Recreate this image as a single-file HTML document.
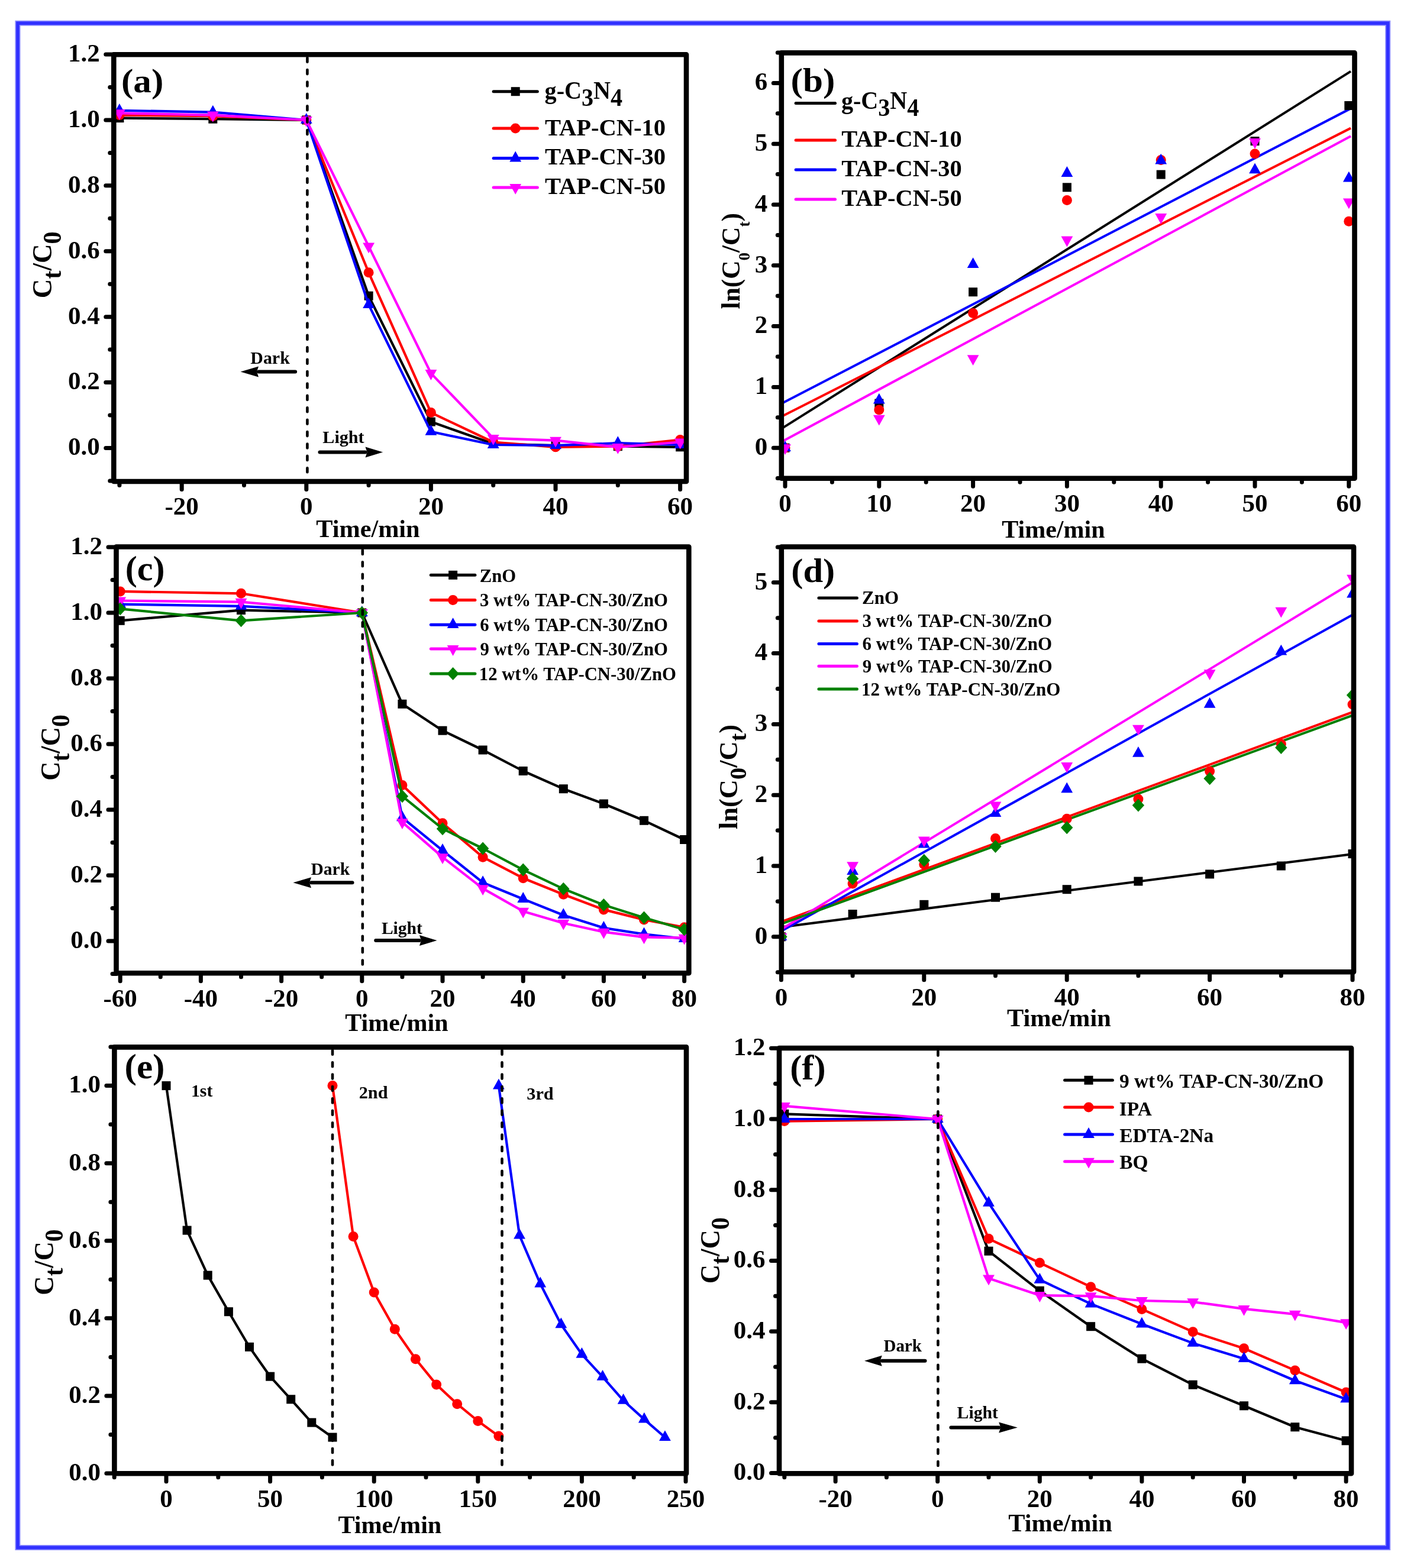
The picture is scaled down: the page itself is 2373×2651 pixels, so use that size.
<!DOCTYPE html><html><head><meta charset="utf-8"><title>Photocatalytic degradation</title><style>html,body{margin:0;padding:0;background:#fff}svg{display:block}</style></head><body>
<svg width="2373" height="2651" viewBox="0 0 2373 2651" font-family="'Liberation Serif','Times New Roman',serif" font-weight="bold" fill="#000">
<rect width="2373" height="2651" fill="#fff"/>
<rect x="29.96" y="39.2" width="2315.74" height="2577.3" fill="none" stroke="#8888ff" stroke-width="9"/>
<rect x="29.96" y="39.2" width="2315.74" height="2577.3" fill="none" stroke="#3030ff" stroke-width="5.5"/>
<clipPath id="c1"><rect x="192.3" y="92.3" width="967.7" height="721.7"/></clipPath>
<g clip-path="url(#c1)">
<polyline points="201.9,199.6 359.8,201.2 517.8,202.9 623.1,500.2 728.4,713.1 833.7,750.3 939.0,753.1 1044.3,754.7 1149.6,755.8" stroke="#000" stroke-width="4.2" fill="none" stroke-linejoin="round"/>
<rect x="194.4" y="192.1" width="15.0" height="15.0" fill="#000"/>
<rect x="352.3" y="193.7" width="15.0" height="15.0" fill="#000"/>
<rect x="510.3" y="195.4" width="15.0" height="15.0" fill="#000"/>
<rect x="615.6" y="492.7" width="15.0" height="15.0" fill="#000"/>
<rect x="720.9" y="705.6" width="15.0" height="15.0" fill="#000"/>
<rect x="826.2" y="742.8" width="15.0" height="15.0" fill="#000"/>
<rect x="931.5" y="745.6" width="15.0" height="15.0" fill="#000"/>
<rect x="1036.8" y="747.2" width="15.0" height="15.0" fill="#000"/>
<rect x="1142.1" y="748.3" width="15.0" height="15.0" fill="#000"/>
<polyline points="201.9,194.6 359.8,196.2 517.8,202.9 623.1,460.8 728.4,697.6 833.7,747.5 939.0,755.8 1044.3,754.7 1149.6,743.6" stroke="#ff0000" stroke-width="4.2" fill="none" stroke-linejoin="round"/>
<circle cx="201.9" cy="194.6" r="8.5" fill="#ff0000"/>
<circle cx="359.8" cy="196.2" r="8.5" fill="#ff0000"/>
<circle cx="517.8" cy="202.9" r="8.5" fill="#ff0000"/>
<circle cx="623.1" cy="460.8" r="8.5" fill="#ff0000"/>
<circle cx="728.4" cy="697.6" r="8.5" fill="#ff0000"/>
<circle cx="833.7" cy="747.5" r="8.5" fill="#ff0000"/>
<circle cx="939.0" cy="755.8" r="8.5" fill="#ff0000"/>
<circle cx="1044.3" cy="754.7" r="8.5" fill="#ff0000"/>
<circle cx="1149.6" cy="743.6" r="8.5" fill="#ff0000"/>
<polyline points="201.9,186.8 359.8,189.6 517.8,202.9 623.1,515.1 728.4,729.8 833.7,752.0 939.0,753.1 1044.3,749.2 1149.6,752.0" stroke="#0000ff" stroke-width="4.2" fill="none" stroke-linejoin="round"/>
<path d="M201.9,174.9L211.8,192.7L192.0,192.7Z" fill="#0000ff"/>
<path d="M359.8,177.7L369.7,195.5L349.9,195.5Z" fill="#0000ff"/>
<path d="M517.8,191.0L527.7,208.8L507.9,208.8Z" fill="#0000ff"/>
<path d="M623.1,503.3L633.0,521.1L613.2,521.1Z" fill="#0000ff"/>
<path d="M728.4,717.9L738.3,735.7L718.5,735.7Z" fill="#0000ff"/>
<path d="M833.7,740.1L843.6,757.9L823.8,757.9Z" fill="#0000ff"/>
<path d="M939.0,741.2L948.9,759.0L929.1,759.0Z" fill="#0000ff"/>
<path d="M1044.3,737.3L1054.2,755.1L1034.4,755.1Z" fill="#0000ff"/>
<path d="M1149.6,740.1L1159.5,757.9L1139.7,757.9Z" fill="#0000ff"/>
<polyline points="201.9,191.3 359.8,194.6 517.8,202.9 623.1,416.4 728.4,631.1 833.7,740.9 939.0,744.7 1044.3,755.8 1149.6,747.5" stroke="#ff00ff" stroke-width="4.2" fill="none" stroke-linejoin="round"/>
<path d="M201.9,203.1L211.8,185.3L192.0,185.3Z" fill="#ff00ff"/>
<path d="M359.8,206.4L369.7,188.6L349.9,188.6Z" fill="#ff00ff"/>
<path d="M517.8,214.8L527.7,197.0L507.9,197.0Z" fill="#ff00ff"/>
<path d="M623.1,428.3L633.0,410.5L613.2,410.5Z" fill="#ff00ff"/>
<path d="M728.4,642.9L738.3,625.1L718.5,625.1Z" fill="#ff00ff"/>
<path d="M833.7,752.7L843.6,734.9L823.8,734.9Z" fill="#ff00ff"/>
<path d="M939.0,756.6L948.9,738.8L929.1,738.8Z" fill="#ff00ff"/>
<path d="M1044.3,767.7L1054.2,749.9L1034.4,749.9Z" fill="#ff00ff"/>
<path d="M1149.6,759.4L1159.5,741.6L1139.7,741.6Z" fill="#ff00ff"/>
<line x1="519.4" y1="92.3" x2="519.4" y2="810.0" stroke="#000" stroke-width="4.6" stroke-dasharray="7 13.4" stroke-dashoffset="15" stroke-linecap="round"/>
</g>
<path d="M307.2,814.0V827.5M517.8,814.0V827.5M728.4,814.0V827.5M939.0,814.0V827.5M1149.6,814.0V827.5M201.9,814.0V820.5M412.5,814.0V820.5M623.1,814.0V820.5M833.7,814.0V820.5M1044.3,814.0V820.5M192.3,757.5H178.8M192.3,646.6H178.8M192.3,535.7H178.8M192.3,424.7H178.8M192.3,313.8H178.8M192.3,202.9H178.8M192.3,92.0H178.8M192.3,813.0H185.8M192.3,702.0H185.8M192.3,591.1H185.8M192.3,480.2H185.8M192.3,369.3H185.8M192.3,258.4H185.8M192.3,147.4H185.8" stroke="#000" stroke-width="7" stroke-linecap="round" fill="none"/>
<rect x="192.3" y="92.3" width="967.7" height="721.7" stroke="#000" stroke-width="8.6" fill="none" stroke-linejoin="round"/>
<text x="307.2" y="870.3" font-size="43" text-anchor="middle">-20</text>
<text x="517.8" y="870.3" font-size="43" text-anchor="middle">0</text>
<text x="728.4" y="870.3" font-size="43" text-anchor="middle">20</text>
<text x="939.0" y="870.3" font-size="43" text-anchor="middle">40</text>
<text x="1149.6" y="870.3" font-size="43" text-anchor="middle">60</text>
<text x="168.8" y="769.3" font-size="43" text-anchor="end">0.0</text>
<text x="168.8" y="658.4" font-size="43" text-anchor="end">0.2</text>
<text x="168.8" y="547.5" font-size="43" text-anchor="end">0.4</text>
<text x="168.8" y="436.5" font-size="43" text-anchor="end">0.6</text>
<text x="168.8" y="325.6" font-size="43" text-anchor="end">0.8</text>
<text x="168.8" y="214.7" font-size="43" text-anchor="end">1.0</text>
<text x="168.8" y="103.8" font-size="43" text-anchor="end">1.2</text>
<text x="205.0" y="155.6" font-size="58.0" textLength="71.3" lengthAdjust="spacingAndGlyphs">(a)</text>
<line x1="834.1" y1="154.7" x2="908.3" y2="154.7" stroke="#000" stroke-width="5" stroke-linecap="round"/>
<rect x="863.7" y="147.2" width="15.0" height="15.0" fill="#000"/>
<text x="920.6" y="166.6" textLength="131.4" lengthAdjust="spacingAndGlyphs"><tspan font-size="42" dy="0">g-C</tspan><tspan font-size="42" dy="12">3</tspan><tspan font-size="42" dy="-12">N</tspan><tspan font-size="42" dy="12">4</tspan></text>
<line x1="834.1" y1="217.0" x2="908.3" y2="217.0" stroke="#ff0000" stroke-width="5" stroke-linecap="round"/>
<circle cx="871.2" cy="217.0" r="8.5" fill="#ff0000"/>
<text x="921.0" y="228.9" font-size="40" textLength="204.0" lengthAdjust="spacingAndGlyphs">TAP-CN-10</text>
<line x1="834.1" y1="267.5" x2="908.3" y2="267.5" stroke="#0000ff" stroke-width="5" stroke-linecap="round"/>
<path d="M871.2,255.6L881.1,273.4L861.3,273.4Z" fill="#0000ff"/>
<text x="921.0" y="278.3" font-size="40" textLength="204.0" lengthAdjust="spacingAndGlyphs">TAP-CN-30</text>
<line x1="834.1" y1="316.9" x2="908.3" y2="316.9" stroke="#ff00ff" stroke-width="5" stroke-linecap="round"/>
<path d="M871.2,328.8L881.1,311.0L861.3,311.0Z" fill="#ff00ff"/>
<text x="921.0" y="327.8" font-size="40" textLength="204.0" lengthAdjust="spacingAndGlyphs">TAP-CN-50</text>
<text x="423.3" y="615.3" font-size="30" textLength="66.5" lengthAdjust="spacingAndGlyphs">Dark</text>
<line x1="499.1" y1="628.5" x2="437.0" y2="628.5" stroke="#000" stroke-width="6" stroke-linecap="round"/>
<path d="M406.5,628.5L437.0,619.5L434.0,628.5L437.0,637.5Z" fill="#000"/>
<text x="545.3" y="748.8" font-size="30" textLength="70.3" lengthAdjust="spacingAndGlyphs">Light</text>
<line x1="540.5" y1="764.5" x2="617.5" y2="764.5" stroke="#000" stroke-width="6" stroke-linecap="round"/>
<path d="M647.1,764.5L617.5,755.5L620.5,764.5L617.5,773.5Z" fill="#000"/>
<text x="534.3" y="908.0" font-size="42" textLength="175.3" lengthAdjust="spacingAndGlyphs">Time/min</text>
<g transform="translate(86.5,504.3) rotate(-90) scale(0.9611,1)"><text x="0" y="0"><tspan font-size="47" dy="0">C</tspan><tspan font-size="44" dy="16">t</tspan><tspan font-size="47" dy="-16">/</tspan><tspan font-size="47" dy="0">C</tspan><tspan font-size="44" dy="16">0</tspan></text></g>
<clipPath id="c2"><rect x="1320.8" y="89.4" width="968.7" height="719.3"/></clipPath>
<g clip-path="url(#c2)">
<line x1="1321.4" y1="724.4" x2="2283.0" y2="120.6" stroke="#000" stroke-width="4.0"/>
<line x1="1321.4" y1="704.0" x2="2283.0" y2="216.6" stroke="#ff0000" stroke-width="4.0"/>
<line x1="1321.4" y1="682.0" x2="2283.0" y2="183.4" stroke="#0000ff" stroke-width="4.0"/>
<line x1="1321.4" y1="746.8" x2="2283.0" y2="230.2" stroke="#ff00ff" stroke-width="4.0"/>
<rect x="1319.5" y="749.7" width="15.0" height="15.0" fill="#000"/>
<rect x="1478.3" y="674.5" width="15.0" height="15.0" fill="#000"/>
<rect x="1637.1" y="486.2" width="15.0" height="15.0" fill="#000"/>
<rect x="1795.9" y="309.3" width="15.0" height="15.0" fill="#000"/>
<rect x="1954.7" y="287.6" width="15.0" height="15.0" fill="#000"/>
<rect x="2113.5" y="231.1" width="15.0" height="15.0" fill="#000"/>
<rect x="2272.3" y="171.0" width="15.0" height="15.0" fill="#000"/>
<circle cx="1327.0" cy="757.2" r="8.5" fill="#ff0000"/>
<circle cx="1485.8" cy="693.0" r="8.5" fill="#ff0000"/>
<circle cx="1644.6" cy="529.4" r="8.5" fill="#ff0000"/>
<circle cx="1803.4" cy="338.6" r="8.5" fill="#ff0000"/>
<circle cx="1962.2" cy="270.6" r="8.5" fill="#ff0000"/>
<circle cx="2121.0" cy="260.0" r="8.5" fill="#ff0000"/>
<circle cx="2279.8" cy="374.3" r="8.5" fill="#ff0000"/>
<path d="M1327.0,745.3L1336.9,763.1L1317.1,763.1Z" fill="#0000ff"/>
<path d="M1485.8,664.7L1495.7,682.5L1475.9,682.5Z" fill="#0000ff"/>
<path d="M1644.6,435.3L1654.5,453.1L1634.7,453.1Z" fill="#0000ff"/>
<path d="M1803.4,281.1L1813.3,298.9L1793.5,298.9Z" fill="#0000ff"/>
<path d="M1962.2,259.7L1972.1,277.5L1952.3,277.5Z" fill="#0000ff"/>
<path d="M2121.0,275.4L2130.9,293.2L2111.1,293.2Z" fill="#0000ff"/>
<path d="M2279.8,289.7L2289.7,307.5L2269.9,307.5Z" fill="#0000ff"/>
<path d="M1327.0,769.1L1336.9,751.3L1317.1,751.3Z" fill="#ff00ff"/>
<path d="M1485.8,719.6L1495.7,701.8L1475.9,701.8Z" fill="#ff00ff"/>
<path d="M1644.6,618.1L1654.5,600.3L1634.7,600.3Z" fill="#ff00ff"/>
<path d="M1803.4,417.4L1813.3,399.6L1793.5,399.6Z" fill="#ff00ff"/>
<path d="M1962.2,378.9L1972.1,361.1L1952.3,361.1Z" fill="#ff00ff"/>
<path d="M2121.0,251.8L2130.9,234.0L2111.1,234.0Z" fill="#ff00ff"/>
<path d="M2279.8,353.2L2289.7,335.4L2269.9,335.4Z" fill="#ff00ff"/>
</g>
<path d="M1327.0,808.7V822.2M1485.8,808.7V822.2M1644.6,808.7V822.2M1803.4,808.7V822.2M1962.2,808.7V822.2M2121.0,808.7V822.2M2279.8,808.7V822.2M1406.4,808.7V815.2M1565.2,808.7V815.2M1724.0,808.7V815.2M1882.8,808.7V815.2M2041.6,808.7V815.2M2200.4,808.7V815.2M1320.8,757.2H1307.3M1320.8,654.4H1307.3M1320.8,551.6H1307.3M1320.8,448.8H1307.3M1320.8,346.0H1307.3M1320.8,243.2H1307.3M1320.8,140.4H1307.3M1320.8,808.6H1314.3M1320.8,705.8H1314.3M1320.8,603.0H1314.3M1320.8,500.2H1314.3M1320.8,397.4H1314.3M1320.8,294.6H1314.3M1320.8,191.8H1314.3M1320.8,89.0H1314.3" stroke="#000" stroke-width="7" stroke-linecap="round" fill="none"/>
<rect x="1320.8" y="89.4" width="968.7" height="719.3" stroke="#000" stroke-width="8.6" fill="none" stroke-linejoin="round"/>
<text x="1327.0" y="865.0" font-size="43" text-anchor="middle">0</text>
<text x="1485.8" y="865.0" font-size="43" text-anchor="middle">10</text>
<text x="1644.6" y="865.0" font-size="43" text-anchor="middle">20</text>
<text x="1803.4" y="865.0" font-size="43" text-anchor="middle">30</text>
<text x="1962.2" y="865.0" font-size="43" text-anchor="middle">40</text>
<text x="2121.0" y="865.0" font-size="43" text-anchor="middle">50</text>
<text x="2279.8" y="865.0" font-size="43" text-anchor="middle">60</text>
<text x="1297.3" y="769.0" font-size="43" text-anchor="end">0</text>
<text x="1297.3" y="666.2" font-size="43" text-anchor="end">1</text>
<text x="1297.3" y="563.4" font-size="43" text-anchor="end">2</text>
<text x="1297.3" y="460.6" font-size="43" text-anchor="end">3</text>
<text x="1297.3" y="357.8" font-size="43" text-anchor="end">4</text>
<text x="1297.3" y="255.0" font-size="43" text-anchor="end">5</text>
<text x="1297.3" y="152.2" font-size="43" text-anchor="end">6</text>
<text x="1336.6" y="154.7" font-size="56.9" textLength="74.7" lengthAdjust="spacingAndGlyphs">(b)</text>
<line x1="1345.1" y1="174.5" x2="1411.5" y2="174.5" stroke="#000" stroke-width="5" stroke-linecap="round"/>
<text x="1421.9" y="184.4" textLength="131.4" lengthAdjust="spacingAndGlyphs"><tspan font-size="42" dy="0">g-C</tspan><tspan font-size="42" dy="12">3</tspan><tspan font-size="42" dy="-12">N</tspan><tspan font-size="42" dy="12">4</tspan></text>
<line x1="1345.1" y1="237.1" x2="1411.5" y2="237.1" stroke="#ff0000" stroke-width="5" stroke-linecap="round"/>
<text x="1422.3" y="248.0" font-size="40" textLength="203.3" lengthAdjust="spacingAndGlyphs">TAP-CN-10</text>
<line x1="1345.1" y1="287.0" x2="1411.5" y2="287.0" stroke="#0000ff" stroke-width="5" stroke-linecap="round"/>
<text x="1422.3" y="297.6" font-size="40" textLength="203.3" lengthAdjust="spacingAndGlyphs">TAP-CN-30</text>
<line x1="1345.1" y1="337.1" x2="1411.5" y2="337.1" stroke="#ff00ff" stroke-width="5" stroke-linecap="round"/>
<text x="1422.3" y="348.1" font-size="40" textLength="203.3" lengthAdjust="spacingAndGlyphs">TAP-CN-50</text>
<text x="1693.2" y="908.8" font-size="42" textLength="174.4" lengthAdjust="spacingAndGlyphs">Time/min</text>
<g transform="translate(1249.5,522.4) rotate(-90) scale(0.9641,1)"><text x="0" y="0"><tspan font-size="45" dy="0">ln(C</tspan><tspan font-size="28" dy="17">0</tspan><tspan font-size="45" dy="-17">/C</tspan><tspan font-size="28" dy="17">t</tspan><tspan font-size="45" dy="-17">)</tspan></text></g>
<clipPath id="c3"><rect x="196.5" y="924.5" width="967.8" height="720.7"/></clipPath>
<g clip-path="url(#c3)">
<polyline points="203.2,1049.3 407.5,1031.6 611.8,1036.0 679.9,1190.3 748.0,1235.2 816.1,1268.0 884.2,1303.5 952.3,1333.7 1020.4,1359.0 1088.5,1387.3 1156.6,1419.5" stroke="#000" stroke-width="4.2" fill="none" stroke-linejoin="round"/>
<rect x="195.7" y="1041.8" width="15.0" height="15.0" fill="#000"/>
<rect x="400.0" y="1024.1" width="15.0" height="15.0" fill="#000"/>
<rect x="604.3" y="1028.5" width="15.0" height="15.0" fill="#000"/>
<rect x="672.4" y="1182.8" width="15.0" height="15.0" fill="#000"/>
<rect x="740.5" y="1227.7" width="15.0" height="15.0" fill="#000"/>
<rect x="808.6" y="1260.5" width="15.0" height="15.0" fill="#000"/>
<rect x="876.7" y="1296.0" width="15.0" height="15.0" fill="#000"/>
<rect x="944.8" y="1326.2" width="15.0" height="15.0" fill="#000"/>
<rect x="1012.9" y="1351.5" width="15.0" height="15.0" fill="#000"/>
<rect x="1081.0" y="1379.8" width="15.0" height="15.0" fill="#000"/>
<rect x="1149.1" y="1412.0" width="15.0" height="15.0" fill="#000"/>
<polyline points="203.2,999.9 407.5,1003.3 611.8,1036.0 679.9,1327.4 748.0,1391.8 816.1,1449.2 884.2,1484.7 952.3,1512.2 1020.4,1537.9 1088.5,1554.9 1156.6,1567.7" stroke="#ff0000" stroke-width="4.2" fill="none" stroke-linejoin="round"/>
<circle cx="203.2" cy="999.9" r="8.5" fill="#ff0000"/>
<circle cx="407.5" cy="1003.3" r="8.5" fill="#ff0000"/>
<circle cx="611.8" cy="1036.0" r="8.5" fill="#ff0000"/>
<circle cx="679.9" cy="1327.4" r="8.5" fill="#ff0000"/>
<circle cx="748.0" cy="1391.8" r="8.5" fill="#ff0000"/>
<circle cx="816.1" cy="1449.2" r="8.5" fill="#ff0000"/>
<circle cx="884.2" cy="1484.7" r="8.5" fill="#ff0000"/>
<circle cx="952.3" cy="1512.2" r="8.5" fill="#ff0000"/>
<circle cx="1020.4" cy="1537.9" r="8.5" fill="#ff0000"/>
<circle cx="1088.5" cy="1554.9" r="8.5" fill="#ff0000"/>
<circle cx="1156.6" cy="1567.7" r="8.5" fill="#ff0000"/>
<polyline points="203.2,1021.6 407.5,1024.9 611.8,1036.0 679.9,1382.3 748.0,1437.8 816.1,1492.2 884.2,1520.0 952.3,1547.2 1020.4,1568.8 1088.5,1579.3 1156.6,1587.1" stroke="#0000ff" stroke-width="4.2" fill="none" stroke-linejoin="round"/>
<path d="M203.2,1009.7L213.1,1027.5L193.3,1027.5Z" fill="#0000ff"/>
<path d="M407.5,1013.0L417.4,1030.8L397.6,1030.8Z" fill="#0000ff"/>
<path d="M611.8,1024.1L621.7,1041.9L601.9,1041.9Z" fill="#0000ff"/>
<path d="M679.9,1370.5L689.8,1388.3L670.0,1388.3Z" fill="#0000ff"/>
<path d="M748.0,1426.0L757.9,1443.8L738.1,1443.8Z" fill="#0000ff"/>
<path d="M816.1,1480.3L826.0,1498.1L806.2,1498.1Z" fill="#0000ff"/>
<path d="M884.2,1508.1L894.1,1525.9L874.3,1525.9Z" fill="#0000ff"/>
<path d="M952.3,1535.3L962.2,1553.1L942.4,1553.1Z" fill="#0000ff"/>
<path d="M1020.4,1556.9L1030.3,1574.7L1010.5,1574.7Z" fill="#0000ff"/>
<path d="M1088.5,1567.5L1098.4,1585.3L1078.6,1585.3Z" fill="#0000ff"/>
<path d="M1156.6,1575.2L1166.5,1593.0L1146.7,1593.0Z" fill="#0000ff"/>
<polyline points="203.2,1015.5 407.5,1017.7 611.8,1036.0 679.9,1390.1 748.0,1449.2 816.1,1502.2 884.2,1540.7 952.3,1560.7 1020.4,1575.7 1088.5,1584.3 1156.6,1585.7" stroke="#ff00ff" stroke-width="4.2" fill="none" stroke-linejoin="round"/>
<path d="M203.2,1027.3L213.1,1009.5L193.3,1009.5Z" fill="#ff00ff"/>
<path d="M407.5,1029.6L417.4,1011.8L397.6,1011.8Z" fill="#ff00ff"/>
<path d="M611.8,1047.9L621.7,1030.1L601.9,1030.1Z" fill="#ff00ff"/>
<path d="M679.9,1402.0L689.8,1384.2L670.0,1384.2Z" fill="#ff00ff"/>
<path d="M748.0,1461.1L757.9,1443.3L738.1,1443.3Z" fill="#ff00ff"/>
<path d="M816.1,1514.1L826.0,1496.3L806.2,1496.3Z" fill="#ff00ff"/>
<path d="M884.2,1552.6L894.1,1534.8L874.3,1534.8Z" fill="#ff00ff"/>
<path d="M952.3,1572.6L962.2,1554.8L942.4,1554.8Z" fill="#ff00ff"/>
<path d="M1020.4,1587.6L1030.3,1569.8L1010.5,1569.8Z" fill="#ff00ff"/>
<path d="M1088.5,1596.2L1098.4,1578.4L1078.6,1578.4Z" fill="#ff00ff"/>
<path d="M1156.6,1597.6L1166.5,1579.8L1146.7,1579.8Z" fill="#ff00ff"/>
<polyline points="203.2,1029.3 407.5,1049.3 611.8,1036.0 679.9,1346.2 748.0,1401.2 816.1,1434.5 884.2,1470.6 952.3,1502.8 1020.4,1530.0 1088.5,1551.6 1156.6,1571.6" stroke="#008000" stroke-width="4.2" fill="none" stroke-linejoin="round"/>
<path d="M203.2,1018.3L213.4,1029.3L203.2,1040.3L193.0,1029.3Z" fill="#008000"/>
<path d="M407.5,1038.3L417.7,1049.3L407.5,1060.3L397.3,1049.3Z" fill="#008000"/>
<path d="M611.8,1025.0L622.0,1036.0L611.8,1047.0L601.6,1036.0Z" fill="#008000"/>
<path d="M679.9,1335.2L690.1,1346.2L679.9,1357.2L669.7,1346.2Z" fill="#008000"/>
<path d="M748.0,1390.2L758.2,1401.2L748.0,1412.2L737.8,1401.2Z" fill="#008000"/>
<path d="M816.1,1423.5L826.3,1434.5L816.1,1445.5L805.9,1434.5Z" fill="#008000"/>
<path d="M884.2,1459.6L894.4,1470.6L884.2,1481.6L874.0,1470.6Z" fill="#008000"/>
<path d="M952.3,1491.8L962.5,1502.8L952.3,1513.8L942.1,1502.8Z" fill="#008000"/>
<path d="M1020.4,1519.0L1030.6,1530.0L1020.4,1541.0L1010.2,1530.0Z" fill="#008000"/>
<path d="M1088.5,1540.6L1098.7,1551.6L1088.5,1562.6L1078.3,1551.6Z" fill="#008000"/>
<path d="M1156.6,1560.6L1166.8,1571.6L1156.6,1582.6L1146.4,1571.6Z" fill="#008000"/>
<line x1="612.8" y1="924.5" x2="612.8" y2="1641.2" stroke="#000" stroke-width="4.6" stroke-dasharray="7 13.4" stroke-dashoffset="15" stroke-linecap="round"/>
</g>
<path d="M203.2,1645.2V1658.7M339.4,1645.2V1658.7M475.6,1645.2V1658.7M611.8,1645.2V1658.7M748.0,1645.2V1658.7M884.2,1645.2V1658.7M1020.4,1645.2V1658.7M1156.6,1645.2V1658.7M271.3,1645.2V1651.7M407.5,1645.2V1651.7M543.7,1645.2V1651.7M679.9,1645.2V1651.7M816.1,1645.2V1651.7M952.3,1645.2V1651.7M1088.5,1645.2V1651.7M196.5,1591.0H183.0M196.5,1480.0H183.0M196.5,1369.0H183.0M196.5,1258.0H183.0M196.5,1147.0H183.0M196.5,1036.0H183.0M196.5,925.0H183.0M196.5,1646.5H190.0M196.5,1535.5H190.0M196.5,1424.5H190.0M196.5,1313.5H190.0M196.5,1202.5H190.0M196.5,1091.5H190.0M196.5,980.5H190.0" stroke="#000" stroke-width="7" stroke-linecap="round" fill="none"/>
<rect x="196.5" y="924.5" width="967.8" height="720.7" stroke="#000" stroke-width="8.6" fill="none" stroke-linejoin="round"/>
<text x="203.2" y="1701.5" font-size="43" text-anchor="middle">-60</text>
<text x="339.4" y="1701.5" font-size="43" text-anchor="middle">-40</text>
<text x="475.6" y="1701.5" font-size="43" text-anchor="middle">-20</text>
<text x="611.8" y="1701.5" font-size="43" text-anchor="middle">0</text>
<text x="748.0" y="1701.5" font-size="43" text-anchor="middle">20</text>
<text x="884.2" y="1701.5" font-size="43" text-anchor="middle">40</text>
<text x="1020.4" y="1701.5" font-size="43" text-anchor="middle">60</text>
<text x="1156.6" y="1701.5" font-size="43" text-anchor="middle">80</text>
<text x="173.0" y="1602.8" font-size="43" text-anchor="end">0.0</text>
<text x="173.0" y="1491.8" font-size="43" text-anchor="end">0.2</text>
<text x="173.0" y="1380.8" font-size="43" text-anchor="end">0.4</text>
<text x="173.0" y="1269.8" font-size="43" text-anchor="end">0.6</text>
<text x="173.0" y="1158.8" font-size="43" text-anchor="end">0.8</text>
<text x="173.0" y="1047.8" font-size="43" text-anchor="end">1.0</text>
<text x="173.0" y="936.8" font-size="43" text-anchor="end">1.2</text>
<text x="211.7" y="980.8" font-size="58.2" textLength="66.8" lengthAdjust="spacingAndGlyphs">(c)</text>
<line x1="728.3" y1="972.3" x2="802.9" y2="972.3" stroke="#000" stroke-width="5" stroke-linecap="round"/>
<rect x="758.1" y="964.8" width="15.0" height="15.0" fill="#000"/>
<text x="810.8" y="983.9" font-size="31" textLength="61.4" lengthAdjust="spacingAndGlyphs">ZnO</text>
<line x1="728.3" y1="1014.4" x2="802.9" y2="1014.4" stroke="#ff0000" stroke-width="5" stroke-linecap="round"/>
<circle cx="765.6" cy="1014.4" r="8.5" fill="#ff0000"/>
<text x="811.1" y="1024.7" font-size="31" textLength="317.8" lengthAdjust="spacingAndGlyphs">3 wt% TAP-CN-30/ZnO</text>
<line x1="728.3" y1="1056.2" x2="802.9" y2="1056.2" stroke="#0000ff" stroke-width="5" stroke-linecap="round"/>
<path d="M765.6,1044.3L775.5,1062.1L755.7,1062.1Z" fill="#0000ff"/>
<text x="811.3" y="1066.5" font-size="31" textLength="317.7" lengthAdjust="spacingAndGlyphs">6 wt% TAP-CN-30/ZnO</text>
<line x1="728.3" y1="1097.0" x2="802.9" y2="1097.0" stroke="#ff00ff" stroke-width="5" stroke-linecap="round"/>
<path d="M765.6,1108.9L775.5,1091.1L755.7,1091.1Z" fill="#ff00ff"/>
<text x="811.5" y="1108.4" font-size="31" textLength="317.4" lengthAdjust="spacingAndGlyphs">9 wt% TAP-CN-30/ZnO</text>
<line x1="728.3" y1="1138.9" x2="802.9" y2="1138.9" stroke="#008000" stroke-width="5" stroke-linecap="round"/>
<path d="M765.6,1127.9L775.8,1138.9L765.6,1149.9L755.4,1138.9Z" fill="#008000"/>
<text x="809.8" y="1149.7" font-size="31" textLength="333.1" lengthAdjust="spacingAndGlyphs">12 wt% TAP-CN-30/ZnO</text>
<text x="525.4" y="1479.1" font-size="30" textLength="65.7" lengthAdjust="spacingAndGlyphs">Dark</text>
<line x1="595.5" y1="1492.3" x2="526.0" y2="1492.3" stroke="#000" stroke-width="6" stroke-linecap="round"/>
<path d="M495.4,1492.3L526.0,1483.3L523.0,1492.3L526.0,1501.3Z" fill="#000"/>
<text x="644.9" y="1579.2" font-size="30" textLength="69.0" lengthAdjust="spacingAndGlyphs">Light</text>
<line x1="635.2" y1="1589.9" x2="708.9" y2="1589.9" stroke="#000" stroke-width="6" stroke-linecap="round"/>
<path d="M738.6,1589.9L708.9,1580.9L711.9,1589.9L708.9,1598.9Z" fill="#000"/>
<text x="583.3" y="1742.9" font-size="42" textLength="174.3" lengthAdjust="spacingAndGlyphs">Time/min</text>
<g transform="translate(100.5,1319.7) rotate(-90) scale(0.9479,1)"><text x="0" y="0"><tspan font-size="47" dy="0">C</tspan><tspan font-size="44" dy="16">t</tspan><tspan font-size="47" dy="-16">/</tspan><tspan font-size="47" dy="0">C</tspan><tspan font-size="44" dy="16">0</tspan></text></g>
<clipPath id="c4"><rect x="1320.8" y="924.5" width="967.2" height="718.7"/></clipPath>
<g clip-path="url(#c4)">
<line x1="1320.4" y1="1567.4" x2="2286.0" y2="1444.0" stroke="#000" stroke-width="4.0"/>
<line x1="1320.4" y1="1558.6" x2="2286.0" y2="1204.0" stroke="#ff0000" stroke-width="4.0"/>
<line x1="1320.4" y1="1574.2" x2="2286.0" y2="1039.4" stroke="#0000ff" stroke-width="4.0"/>
<line x1="1320.4" y1="1571.2" x2="2286.0" y2="984.7" stroke="#ff00ff" stroke-width="4.0"/>
<line x1="1320.4" y1="1562.2" x2="2286.0" y2="1209.5" stroke="#008000" stroke-width="4.0"/>
<rect x="1312.9" y="1576.3" width="15.0" height="15.0" fill="#000"/>
<rect x="1433.6" y="1538.0" width="15.0" height="15.0" fill="#000"/>
<rect x="1554.3" y="1521.8" width="15.0" height="15.0" fill="#000"/>
<rect x="1675.0" y="1509.7" width="15.0" height="15.0" fill="#000"/>
<rect x="1795.7" y="1496.2" width="15.0" height="15.0" fill="#000"/>
<rect x="1916.4" y="1482.5" width="15.0" height="15.0" fill="#000"/>
<rect x="2037.1" y="1470.4" width="15.0" height="15.0" fill="#000"/>
<rect x="2157.8" y="1456.5" width="15.0" height="15.0" fill="#000"/>
<rect x="2278.5" y="1436.1" width="15.0" height="15.0" fill="#000"/>
<circle cx="1320.4" cy="1583.8" r="8.5" fill="#ff0000"/>
<circle cx="1441.1" cy="1494.0" r="8.5" fill="#ff0000"/>
<circle cx="1561.8" cy="1461.6" r="8.5" fill="#ff0000"/>
<circle cx="1682.5" cy="1417.5" r="8.5" fill="#ff0000"/>
<circle cx="1803.2" cy="1384.2" r="8.5" fill="#ff0000"/>
<circle cx="1923.9" cy="1351.0" r="8.5" fill="#ff0000"/>
<circle cx="2044.6" cy="1304.1" r="8.5" fill="#ff0000"/>
<circle cx="2165.3" cy="1257.9" r="8.5" fill="#ff0000"/>
<circle cx="2286.0" cy="1190.9" r="8.5" fill="#ff0000"/>
<path d="M1320.4,1571.9L1330.3,1589.7L1310.5,1589.7Z" fill="#0000ff"/>
<path d="M1441.1,1461.1L1451.0,1478.9L1431.2,1478.9Z" fill="#0000ff"/>
<path d="M1561.8,1415.6L1571.7,1433.4L1551.9,1433.4Z" fill="#0000ff"/>
<path d="M1682.5,1363.2L1692.4,1381.0L1672.6,1381.0Z" fill="#0000ff"/>
<path d="M1803.2,1322.4L1813.1,1340.2L1793.3,1340.2Z" fill="#0000ff"/>
<path d="M1923.9,1262.0L1933.8,1279.8L1914.0,1279.8Z" fill="#0000ff"/>
<path d="M2044.6,1179.0L2054.5,1196.8L2034.7,1196.8Z" fill="#0000ff"/>
<path d="M2165.3,1089.7L2175.2,1107.5L2155.4,1107.5Z" fill="#0000ff"/>
<path d="M2286.0,992.7L2295.9,1010.5L2276.1,1010.5Z" fill="#0000ff"/>
<path d="M1320.4,1595.7L1330.3,1577.9L1310.5,1577.9Z" fill="#ff00ff"/>
<path d="M1441.1,1475.0L1451.0,1457.2L1431.2,1457.2Z" fill="#ff00ff"/>
<path d="M1561.8,1432.4L1571.7,1414.6L1551.9,1414.6Z" fill="#ff00ff"/>
<path d="M1682.5,1373.3L1692.4,1355.5L1672.6,1355.5Z" fill="#ff00ff"/>
<path d="M1803.2,1306.9L1813.1,1289.1L1793.3,1289.1Z" fill="#ff00ff"/>
<path d="M1923.9,1243.5L1933.8,1225.7L1914.0,1225.7Z" fill="#ff00ff"/>
<path d="M2044.6,1150.0L2054.5,1132.2L2034.7,1132.2Z" fill="#ff00ff"/>
<path d="M2165.3,1044.6L2175.2,1026.8L2155.4,1026.8Z" fill="#ff00ff"/>
<path d="M2286.0,989.5L2295.9,971.7L2276.1,971.7Z" fill="#ff00ff"/>
<path d="M1320.4,1572.8L1330.6,1583.8L1320.4,1594.8L1310.2,1583.8Z" fill="#008000"/>
<path d="M1441.1,1474.6L1451.3,1485.6L1441.1,1496.6L1430.9,1485.6Z" fill="#008000"/>
<path d="M1561.8,1443.7L1572.0,1454.7L1561.8,1465.7L1551.6,1454.7Z" fill="#008000"/>
<path d="M1682.5,1420.1L1692.7,1431.1L1682.5,1442.1L1672.3,1431.1Z" fill="#008000"/>
<path d="M1803.2,1388.3L1813.4,1399.3L1803.2,1410.3L1793.0,1399.3Z" fill="#008000"/>
<path d="M1923.9,1350.5L1934.1,1361.5L1923.9,1372.5L1913.7,1361.5Z" fill="#008000"/>
<path d="M2044.6,1305.2L2054.8,1316.2L2044.6,1327.2L2034.4,1316.2Z" fill="#008000"/>
<path d="M2165.3,1252.9L2175.5,1263.9L2165.3,1274.9L2155.1,1263.9Z" fill="#008000"/>
<path d="M2286.0,1164.3L2296.2,1175.3L2286.0,1186.3L2275.8,1175.3Z" fill="#008000"/>
</g>
<path d="M1320.4,1643.2V1656.7M1561.8,1643.2V1656.7M1803.2,1643.2V1656.7M2044.6,1643.2V1656.7M2286.0,1643.2V1656.7M1441.1,1643.2V1649.7M1682.5,1643.2V1649.7M1923.9,1643.2V1649.7M2165.3,1643.2V1649.7M1320.8,1583.8H1307.3M1320.8,1464.0H1307.3M1320.8,1344.2H1307.3M1320.8,1224.4H1307.3M1320.8,1104.6H1307.3M1320.8,984.8H1307.3M1320.8,1643.7H1314.3M1320.8,1523.9H1314.3M1320.8,1404.1H1314.3M1320.8,1284.3H1314.3M1320.8,1164.5H1314.3M1320.8,1044.7H1314.3M1320.8,924.9H1314.3" stroke="#000" stroke-width="7" stroke-linecap="round" fill="none"/>
<rect x="1320.8" y="924.5" width="967.2" height="718.7" stroke="#000" stroke-width="8.6" fill="none" stroke-linejoin="round"/>
<text x="1320.4" y="1699.5" font-size="43" text-anchor="middle">0</text>
<text x="1561.8" y="1699.5" font-size="43" text-anchor="middle">20</text>
<text x="1803.2" y="1699.5" font-size="43" text-anchor="middle">40</text>
<text x="2044.6" y="1699.5" font-size="43" text-anchor="middle">60</text>
<text x="2286.0" y="1699.5" font-size="43" text-anchor="middle">80</text>
<text x="1297.3" y="1595.6" font-size="43" text-anchor="end">0</text>
<text x="1297.3" y="1475.8" font-size="43" text-anchor="end">1</text>
<text x="1297.3" y="1356.0" font-size="43" text-anchor="end">2</text>
<text x="1297.3" y="1236.2" font-size="43" text-anchor="end">3</text>
<text x="1297.3" y="1116.4" font-size="43" text-anchor="end">4</text>
<text x="1297.3" y="996.6" font-size="43" text-anchor="end">5</text>
<text x="1337.3" y="983.6" font-size="56.7" textLength="73.9" lengthAdjust="spacingAndGlyphs">(d)</text>
<line x1="1383.9" y1="1010.9" x2="1448.4" y2="1010.9" stroke="#000" stroke-width="5" stroke-linecap="round"/>
<text x="1457.1" y="1020.6" font-size="31" textLength="62.0" lengthAdjust="spacingAndGlyphs">ZnO</text>
<line x1="1383.9" y1="1050.0" x2="1448.4" y2="1050.0" stroke="#ff0000" stroke-width="5" stroke-linecap="round"/>
<text x="1457.4" y="1060.0" font-size="31" textLength="320.7" lengthAdjust="spacingAndGlyphs">3 wt% TAP-CN-30/ZnO</text>
<line x1="1383.9" y1="1088.6" x2="1448.4" y2="1088.6" stroke="#0000ff" stroke-width="5" stroke-linecap="round"/>
<text x="1457.5" y="1098.6" font-size="31" textLength="320.7" lengthAdjust="spacingAndGlyphs">6 wt% TAP-CN-30/ZnO</text>
<line x1="1383.9" y1="1126.3" x2="1448.4" y2="1126.3" stroke="#ff00ff" stroke-width="5" stroke-linecap="round"/>
<text x="1457.8" y="1137.1" font-size="31" textLength="320.7" lengthAdjust="spacingAndGlyphs">9 wt% TAP-CN-30/ZnO</text>
<line x1="1383.9" y1="1165.1" x2="1448.4" y2="1165.1" stroke="#008000" stroke-width="5" stroke-linecap="round"/>
<text x="1456.1" y="1175.7" font-size="31" textLength="336.2" lengthAdjust="spacingAndGlyphs">12 wt% TAP-CN-30/ZnO</text>
<text x="1702.0" y="1735.4" font-size="42" textLength="175.7" lengthAdjust="spacingAndGlyphs">Time/min</text>
<g transform="translate(1245.5,1402.0) rotate(-90) scale(0.9877,1)"><text x="0" y="0"><tspan font-size="45" dy="0">ln(C</tspan><tspan font-size="41" dy="15">0</tspan><tspan font-size="45" dy="-15">/C</tspan><tspan font-size="41" dy="15">t</tspan><tspan font-size="45" dy="-15">)</tspan></text></g>
<clipPath id="c5"><rect x="193.4" y="1770.4" width="966.6" height="720.8"/></clipPath>
<g clip-path="url(#c5)">
<polyline points="281.0,1835.6 316.1,2080.1 351.2,2156.1 386.4,2217.7 421.5,2277.3 456.6,2327.2 491.7,2365.8 526.8,2405.1 562.0,2430.0" stroke="#000" stroke-width="4.2" fill="none" stroke-linejoin="round"/>
<rect x="273.5" y="1828.1" width="15.0" height="15.0" fill="#000"/>
<rect x="308.6" y="2072.6" width="15.0" height="15.0" fill="#000"/>
<rect x="343.7" y="2148.6" width="15.0" height="15.0" fill="#000"/>
<rect x="378.9" y="2210.2" width="15.0" height="15.0" fill="#000"/>
<rect x="414.0" y="2269.8" width="15.0" height="15.0" fill="#000"/>
<rect x="449.1" y="2319.7" width="15.0" height="15.0" fill="#000"/>
<rect x="484.2" y="2358.3" width="15.0" height="15.0" fill="#000"/>
<rect x="519.3" y="2397.6" width="15.0" height="15.0" fill="#000"/>
<rect x="554.5" y="2422.5" width="15.0" height="15.0" fill="#000"/>
<polyline points="562.0,1835.6 597.1,2090.6 632.2,2184.9 667.3,2247.2 702.4,2297.7 737.6,2340.9 772.7,2373.7 807.8,2402.5 842.9,2428.1" stroke="#ff0000" stroke-width="4.2" fill="none" stroke-linejoin="round"/>
<circle cx="562.0" cy="1835.6" r="8.5" fill="#ff0000"/>
<circle cx="597.1" cy="2090.6" r="8.5" fill="#ff0000"/>
<circle cx="632.2" cy="2184.9" r="8.5" fill="#ff0000"/>
<circle cx="667.3" cy="2247.2" r="8.5" fill="#ff0000"/>
<circle cx="702.4" cy="2297.7" r="8.5" fill="#ff0000"/>
<circle cx="737.6" cy="2340.9" r="8.5" fill="#ff0000"/>
<circle cx="772.7" cy="2373.7" r="8.5" fill="#ff0000"/>
<circle cx="807.8" cy="2402.5" r="8.5" fill="#ff0000"/>
<circle cx="842.9" cy="2428.1" r="8.5" fill="#ff0000"/>
<polyline points="842.9,1835.6 878.0,2088.6 913.2,2170.5 948.3,2239.3 983.4,2289.8 1018.5,2327.8 1053.6,2367.8 1088.8,2399.6 1123.9,2430.0" stroke="#0000ff" stroke-width="4.2" fill="none" stroke-linejoin="round"/>
<path d="M842.9,1823.7L852.8,1841.5L833.0,1841.5Z" fill="#0000ff"/>
<path d="M878.0,2076.7L887.9,2094.5L868.1,2094.5Z" fill="#0000ff"/>
<path d="M913.2,2158.6L923.1,2176.4L903.3,2176.4Z" fill="#0000ff"/>
<path d="M948.3,2227.5L958.2,2245.3L938.4,2245.3Z" fill="#0000ff"/>
<path d="M983.4,2277.9L993.3,2295.7L973.5,2295.7Z" fill="#0000ff"/>
<path d="M1018.5,2315.9L1028.4,2333.7L1008.6,2333.7Z" fill="#0000ff"/>
<path d="M1053.6,2355.9L1063.5,2373.7L1043.7,2373.7Z" fill="#0000ff"/>
<path d="M1088.8,2387.7L1098.7,2405.5L1078.9,2405.5Z" fill="#0000ff"/>
<path d="M1123.9,2418.2L1133.8,2436.0L1114.0,2436.0Z" fill="#0000ff"/>
<line x1="562.0" y1="1770.4" x2="562.0" y2="2487.2" stroke="#000" stroke-width="4.6" stroke-dasharray="7 13.4" stroke-dashoffset="15" stroke-linecap="round"/>
<line x1="848.5" y1="1770.4" x2="848.5" y2="2487.2" stroke="#000" stroke-width="4.6" stroke-dasharray="7 13.4" stroke-dashoffset="15" stroke-linecap="round"/>
</g>
<path d="M281.0,2491.2V2504.7M456.6,2491.2V2504.7M632.2,2491.2V2504.7M807.8,2491.2V2504.7M983.4,2491.2V2504.7M1159.0,2491.2V2504.7M193.2,2491.2V2497.7M368.8,2491.2V2497.7M544.4,2491.2V2497.7M720.0,2491.2V2497.7M895.6,2491.2V2497.7M1071.2,2491.2V2497.7M193.4,2491.0H179.9M193.4,2359.9H179.9M193.4,2228.8H179.9M193.4,2097.8H179.9M193.4,1966.7H179.9M193.4,1835.6H179.9M193.4,2425.5H186.9M193.4,2294.4H186.9M193.4,2163.3H186.9M193.4,2032.2H186.9M193.4,1901.1H186.9M193.4,1770.1H186.9" stroke="#000" stroke-width="7" stroke-linecap="round" fill="none"/>
<rect x="193.4" y="1770.4" width="966.6" height="720.8" stroke="#000" stroke-width="8.6" fill="none" stroke-linejoin="round"/>
<text x="281.0" y="2547.5" font-size="43" text-anchor="middle">0</text>
<text x="456.6" y="2547.5" font-size="43" text-anchor="middle">50</text>
<text x="632.2" y="2547.5" font-size="43" text-anchor="middle">100</text>
<text x="807.8" y="2547.5" font-size="43" text-anchor="middle">150</text>
<text x="983.4" y="2547.5" font-size="43" text-anchor="middle">200</text>
<text x="1159.0" y="2547.5" font-size="43" text-anchor="middle">250</text>
<text x="169.9" y="2502.8" font-size="43" text-anchor="end">0.0</text>
<text x="169.9" y="2371.7" font-size="43" text-anchor="end">0.2</text>
<text x="169.9" y="2240.6" font-size="43" text-anchor="end">0.4</text>
<text x="169.9" y="2109.6" font-size="43" text-anchor="end">0.6</text>
<text x="169.9" y="1978.5" font-size="43" text-anchor="end">0.8</text>
<text x="169.9" y="1847.4" font-size="43" text-anchor="end">1.0</text>
<text x="210.5" y="1823.2" font-size="58.1" textLength="68.0" lengthAdjust="spacingAndGlyphs">(e)</text>
<text x="322.9" y="1854.3" font-size="30" textLength="36.5" lengthAdjust="spacingAndGlyphs">1st</text>
<text x="606.7" y="1857.3" font-size="30" textLength="48.8" lengthAdjust="spacingAndGlyphs">2nd</text>
<text x="890.3" y="1859.2" font-size="30" textLength="45.3" lengthAdjust="spacingAndGlyphs">3rd</text>
<text x="571.4" y="2592.1" font-size="42" textLength="174.9" lengthAdjust="spacingAndGlyphs">Time/min</text>
<g transform="translate(89.6,2189.7) rotate(-90) scale(0.9461,1)"><text x="0" y="0"><tspan font-size="47" dy="0">C</tspan><tspan font-size="44" dy="16">t</tspan><tspan font-size="47" dy="-16">/</tspan><tspan font-size="47" dy="0">C</tspan><tspan font-size="44" dy="16">0</tspan></text></g>
<clipPath id="c6"><rect x="1317.0" y="1772.0" width="967.0" height="719.2"/></clipPath>
<g clip-path="url(#c6)">
<polyline points="1325.8,1883.3 1584.7,1892.0 1671.0,2115.2 1757.3,2182.3 1843.6,2242.7 1929.9,2297.2 2016.2,2341.2 2102.5,2376.8 2188.8,2412.7 2275.1,2435.8" stroke="#000" stroke-width="4.2" fill="none" stroke-linejoin="round"/>
<rect x="1318.3" y="1875.8" width="15.0" height="15.0" fill="#000"/>
<rect x="1577.2" y="1884.5" width="15.0" height="15.0" fill="#000"/>
<rect x="1663.5" y="2107.7" width="15.0" height="15.0" fill="#000"/>
<rect x="1749.8" y="2174.8" width="15.0" height="15.0" fill="#000"/>
<rect x="1836.1" y="2235.2" width="15.0" height="15.0" fill="#000"/>
<rect x="1922.4" y="2289.7" width="15.0" height="15.0" fill="#000"/>
<rect x="2008.7" y="2333.7" width="15.0" height="15.0" fill="#000"/>
<rect x="2095.0" y="2369.3" width="15.0" height="15.0" fill="#000"/>
<rect x="2181.3" y="2405.2" width="15.0" height="15.0" fill="#000"/>
<rect x="2267.6" y="2428.3" width="15.0" height="15.0" fill="#000"/>
<polyline points="1325.8,1895.6 1584.7,1892.0 1671.0,2094.3 1757.3,2135.0 1843.6,2175.7 1929.9,2213.4 2016.2,2251.7 2102.5,2279.8 2188.8,2316.9 2275.1,2354.0" stroke="#ff0000" stroke-width="4.2" fill="none" stroke-linejoin="round"/>
<circle cx="1325.8" cy="1895.6" r="8.5" fill="#ff0000"/>
<circle cx="1584.7" cy="1892.0" r="8.5" fill="#ff0000"/>
<circle cx="1671.0" cy="2094.3" r="8.5" fill="#ff0000"/>
<circle cx="1757.3" cy="2135.0" r="8.5" fill="#ff0000"/>
<circle cx="1843.6" cy="2175.7" r="8.5" fill="#ff0000"/>
<circle cx="1929.9" cy="2213.4" r="8.5" fill="#ff0000"/>
<circle cx="2016.2" cy="2251.7" r="8.5" fill="#ff0000"/>
<circle cx="2102.5" cy="2279.8" r="8.5" fill="#ff0000"/>
<circle cx="2188.8" cy="2316.9" r="8.5" fill="#ff0000"/>
<circle cx="2275.1" cy="2354.0" r="8.5" fill="#ff0000"/>
<polyline points="1325.8,1892.0 1584.7,1892.0 1671.0,2033.8 1757.3,2163.7 1843.6,2204.4 1929.9,2238.5 2016.2,2270.9 2102.5,2297.2 2188.8,2334.3 2275.1,2365.4" stroke="#0000ff" stroke-width="4.2" fill="none" stroke-linejoin="round"/>
<path d="M1325.8,1880.1L1335.7,1897.9L1315.9,1897.9Z" fill="#0000ff"/>
<path d="M1584.7,1880.1L1594.6,1897.9L1574.8,1897.9Z" fill="#0000ff"/>
<path d="M1671.0,2022.0L1680.9,2039.8L1661.1,2039.8Z" fill="#0000ff"/>
<path d="M1757.3,2151.9L1767.2,2169.7L1747.4,2169.7Z" fill="#0000ff"/>
<path d="M1843.6,2192.6L1853.5,2210.4L1833.7,2210.4Z" fill="#0000ff"/>
<path d="M1929.9,2226.7L1939.8,2244.5L1920.0,2244.5Z" fill="#0000ff"/>
<path d="M2016.2,2259.0L2026.1,2276.8L2006.3,2276.8Z" fill="#0000ff"/>
<path d="M2102.5,2285.3L2112.4,2303.1L2092.6,2303.1Z" fill="#0000ff"/>
<path d="M2188.8,2322.4L2198.7,2340.2L2178.9,2340.2Z" fill="#0000ff"/>
<path d="M2275.1,2353.5L2285.0,2371.3L2265.2,2371.3Z" fill="#0000ff"/>
<polyline points="1325.8,1869.9 1584.7,1892.0 1671.0,2161.3 1757.3,2190.1 1843.6,2191.2 1929.9,2199.0 2016.2,2201.1 2102.5,2212.8 2188.8,2221.8 2275.1,2236.1" stroke="#ff00ff" stroke-width="4.2" fill="none" stroke-linejoin="round"/>
<path d="M1325.8,1881.7L1335.7,1863.9L1315.9,1863.9Z" fill="#ff00ff"/>
<path d="M1584.7,1903.9L1594.6,1886.1L1574.8,1886.1Z" fill="#ff00ff"/>
<path d="M1671.0,2173.2L1680.9,2155.4L1661.1,2155.4Z" fill="#ff00ff"/>
<path d="M1757.3,2201.9L1767.2,2184.1L1747.4,2184.1Z" fill="#ff00ff"/>
<path d="M1843.6,2203.1L1853.5,2185.3L1833.7,2185.3Z" fill="#ff00ff"/>
<path d="M1929.9,2210.9L1939.8,2193.1L1920.0,2193.1Z" fill="#ff00ff"/>
<path d="M2016.2,2213.0L2026.1,2195.2L2006.3,2195.2Z" fill="#ff00ff"/>
<path d="M2102.5,2224.7L2112.4,2206.9L2092.6,2206.9Z" fill="#ff00ff"/>
<path d="M2188.8,2233.6L2198.7,2215.8L2178.9,2215.8Z" fill="#ff00ff"/>
<path d="M2275.1,2248.0L2285.0,2230.2L2265.2,2230.2Z" fill="#ff00ff"/>
<line x1="1585.4" y1="1772.0" x2="1585.4" y2="2487.2" stroke="#000" stroke-width="4.6" stroke-dasharray="7 13.4" stroke-dashoffset="15" stroke-linecap="round"/>
</g>
<path d="M1412.1,2491.2V2504.7M1584.7,2491.2V2504.7M1757.3,2491.2V2504.7M1929.9,2491.2V2504.7M2102.5,2491.2V2504.7M2275.1,2491.2V2504.7M1325.8,2491.2V2497.7M1498.4,2491.2V2497.7M1671.0,2491.2V2497.7M1843.6,2491.2V2497.7M2016.2,2491.2V2497.7M2188.8,2491.2V2497.7M1317.0,2490.5H1303.5M1317.0,2370.8H1303.5M1317.0,2251.1H1303.5M1317.0,2131.4H1303.5M1317.0,2011.7H1303.5M1317.0,1892.0H1303.5M1317.0,1772.3H1303.5M1317.0,2430.7H1310.5M1317.0,2310.9H1310.5M1317.0,2191.2H1310.5M1317.0,2071.6H1310.5M1317.0,1951.8H1310.5M1317.0,1832.2H1310.5" stroke="#000" stroke-width="7" stroke-linecap="round" fill="none"/>
<rect x="1317.0" y="1772.0" width="967.0" height="719.2" stroke="#000" stroke-width="8.6" fill="none" stroke-linejoin="round"/>
<text x="1412.1" y="2547.5" font-size="43" text-anchor="middle">-20</text>
<text x="1584.7" y="2547.5" font-size="43" text-anchor="middle">0</text>
<text x="1757.3" y="2547.5" font-size="43" text-anchor="middle">20</text>
<text x="1929.9" y="2547.5" font-size="43" text-anchor="middle">40</text>
<text x="2102.5" y="2547.5" font-size="43" text-anchor="middle">60</text>
<text x="2275.1" y="2547.5" font-size="43" text-anchor="middle">80</text>
<text x="1293.5" y="2502.3" font-size="43" text-anchor="end">0.0</text>
<text x="1293.5" y="2382.6" font-size="43" text-anchor="end">0.2</text>
<text x="1293.5" y="2262.9" font-size="43" text-anchor="end">0.4</text>
<text x="1293.5" y="2143.2" font-size="43" text-anchor="end">0.6</text>
<text x="1293.5" y="2023.5" font-size="43" text-anchor="end">0.8</text>
<text x="1293.5" y="1903.8" font-size="43" text-anchor="end">1.0</text>
<text x="1293.5" y="1784.1" font-size="43" text-anchor="end">1.2</text>
<text x="1335.2" y="1825.4" font-size="58.2" textLength="60.3" lengthAdjust="spacingAndGlyphs">(f)</text>
<line x1="1799.6" y1="1826.3" x2="1880.4" y2="1826.3" stroke="#000" stroke-width="5" stroke-linecap="round"/>
<rect x="1832.5" y="1818.8" width="15.0" height="15.0" fill="#000"/>
<text x="1892.0" y="1839.4" font-size="33" textLength="345.3" lengthAdjust="spacingAndGlyphs">9 wt% TAP-CN-30/ZnO</text>
<line x1="1799.6" y1="1872.0" x2="1880.4" y2="1872.0" stroke="#ff0000" stroke-width="5" stroke-linecap="round"/>
<circle cx="1840.0" cy="1872.0" r="8.5" fill="#ff0000"/>
<text x="1891.8" y="1885.7" font-size="33" textLength="55.0" lengthAdjust="spacingAndGlyphs">IPA</text>
<line x1="1799.6" y1="1918.0" x2="1880.4" y2="1918.0" stroke="#0000ff" stroke-width="5" stroke-linecap="round"/>
<path d="M1840.0,1906.1L1849.9,1923.9L1830.1,1923.9Z" fill="#0000ff"/>
<text x="1892.3" y="1930.6" font-size="33" textLength="158.8" lengthAdjust="spacingAndGlyphs">EDTA-2Na</text>
<line x1="1799.6" y1="1963.7" x2="1880.4" y2="1963.7" stroke="#ff00ff" stroke-width="5" stroke-linecap="round"/>
<path d="M1840.0,1975.6L1849.9,1957.8L1830.1,1957.8Z" fill="#ff00ff"/>
<text x="1892.3" y="1975.7" font-size="33" textLength="48.2" lengthAdjust="spacingAndGlyphs">BQ</text>
<text x="1493.5" y="2284.6" font-size="30" textLength="64.3" lengthAdjust="spacingAndGlyphs">Dark</text>
<line x1="1563.5" y1="2300.7" x2="1490.7" y2="2300.7" stroke="#000" stroke-width="6" stroke-linecap="round"/>
<path d="M1461.0,2300.7L1490.7,2291.7L1487.7,2300.7L1490.7,2309.7Z" fill="#000"/>
<text x="1617.6" y="2398.4" font-size="30" textLength="69.3" lengthAdjust="spacingAndGlyphs">Light</text>
<line x1="1607.4" y1="2413.5" x2="1688.2" y2="2413.5" stroke="#000" stroke-width="6" stroke-linecap="round"/>
<path d="M1719.8,2413.5L1688.2,2404.5L1691.2,2413.5L1688.2,2422.5Z" fill="#000"/>
<text x="1704.3" y="2589.3" font-size="42" textLength="175.6" lengthAdjust="spacingAndGlyphs">Time/min</text>
<g transform="translate(1215.6,2170.2) rotate(-90) scale(0.9532,1)"><text x="0" y="0"><tspan font-size="47" dy="0">C</tspan><tspan font-size="44" dy="16">t</tspan><tspan font-size="47" dy="-16">/</tspan><tspan font-size="47" dy="0">C</tspan><tspan font-size="44" dy="16">0</tspan></text></g>
</svg></body></html>
